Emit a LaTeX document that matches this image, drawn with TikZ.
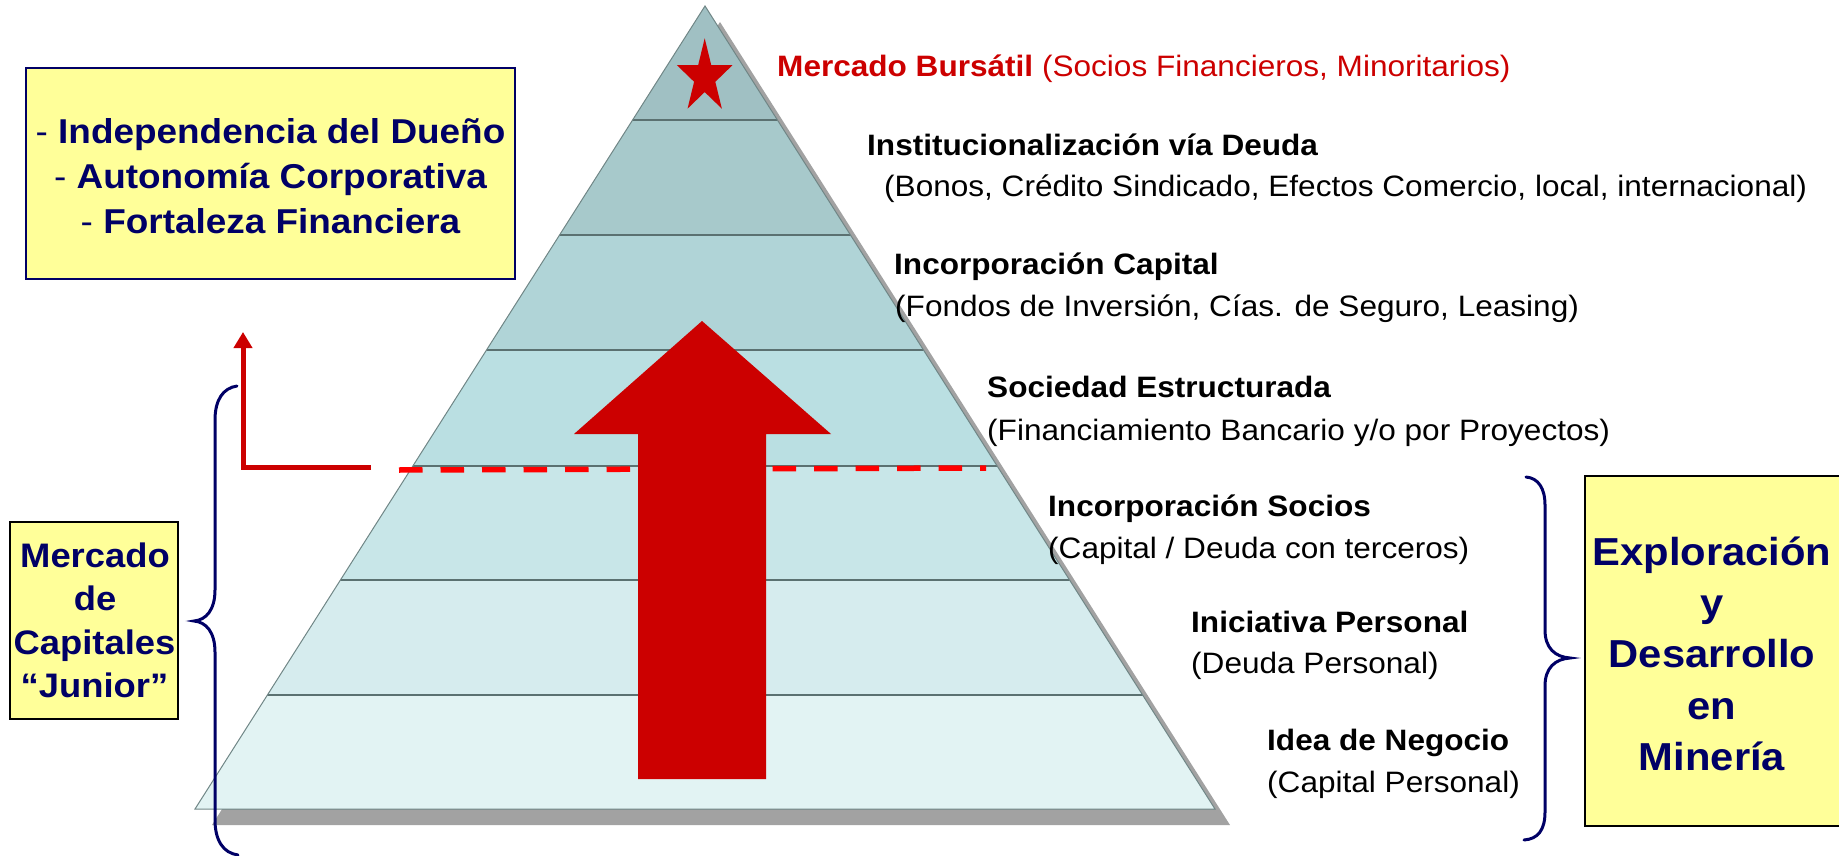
\documentclass[tikz,border=0pt]{standalone}
\usepackage{fontspec}
\setmainfont{Liberation Sans}[FakeStretch=1.07]
\usetikzlibrary{arrows.meta}
\definecolor{navy}{HTML}{000066}
\definecolor{darkred}{HTML}{CC0000}
\definecolor{brightred}{HTML}{FF0000}
\definecolor{boxyellow}{HTML}{FFFF99}
\definecolor{shadowgray}{HTML}{A2A2A2}
\definecolor{layA}{HTML}{A0C0C3}
\definecolor{layB}{HTML}{A7C9CB}
\definecolor{layC}{HTML}{B0D4D7}
\definecolor{layD}{HTML}{BADFE2}
\definecolor{layE}{HTML}{C8E6E8}
\definecolor{layF}{HTML}{D6ECEE}
\definecolor{layG}{HTML}{E2F3F3}
\definecolor{dividercol}{HTML}{5B7171}
\definecolor{edgegray}{HTML}{708686}
\newcommand\fsright{\fontsize{29.5pt}{35pt}\selectfont}
\newcommand\fsgoal{\fontsize{34.5pt}{45pt}\selectfont\bfseries}
\newcommand\fsjunior{\fontsize{34pt}{43.5pt}\selectfont\bfseries}
\newcommand\fsexpl{\fontsize{39pt}{51pt}\selectfont\bfseries}
\begin{document}
\begin{tikzpicture}[x=1pt,y=-1pt,
  rtext/.style={anchor=base west, inner sep=0pt, font=\fsright},
  rhead/.style={anchor=base west, inner sep=0pt, font=\fsright\bfseries},
  goaltext/.style={anchor=base, inner sep=0pt, text=navy, font=\fsgoal},
  juniortext/.style={anchor=base, inner sep=0pt, text=navy, font=\fsjunior},
  expltext/.style={anchor=base, inner sep=0pt, text=navy, font=\fsexpl},
  ybox/.style={rectangle, fill=boxyellow, inner sep=0pt, line width=2pt},
  dividerline/.style={draw=dividercol, line width=2.5pt},
  dashline/.style={draw=brightred, line width=5.5pt, dash pattern=on 23.5pt off 18pt},
  redarrow/.style={draw=darkred, line width=5pt, line join=miter, -{Triangle[width=18pt,length=16pt]}},
  bracestyle/.style={draw=navy, line width=3pt, line cap=round}
]
\useasboundingbox (0,0) rectangle (1839,856);
\clip (0,0) rectangle (1839,856);

% pyramid geometry
\coordinate (apex) at (705,6);
\coordinate (bl) at (195,809);
\coordinate (br) at (1215,809);
\coordinate (sapex) at (720,22);
\coordinate (sbl) at (212,825);
\coordinate (sbr) at (1230,825);

% shadow
\fill[shadowgray] (sapex) -- (sbl) -- (sbr) -- cycle;

% layers
\begin{scope}
  \clip (apex) -- (bl) -- (br) -- cycle;
  \fill[layA] (150,0) rectangle (1300,120);
  \fill[layB] (150,120) rectangle (1300,235);
  \fill[layC] (150,235) rectangle (1300,350);
  \fill[layD] (150,350) rectangle (1300,466);
  \fill[layE] (150,466) rectangle (1300,580);
  \fill[layF] (150,580) rectangle (1300,695);
  \fill[layG] (150,695) rectangle (1300,809);
  \foreach \yy in {120,235,350,466,580,695}
    \draw[dividerline] (150,\yy) -- (1300,\yy);
\end{scope}
\draw[edgegray, line width=1pt] (apex) -- (bl) -- (br) -- cycle;

% star
\begin{scope}[shift={(704.7,77.2)}, x=29.2pt, y=38.9pt]
  \fill[darkred] (90:1) -- (126:0.382) -- (162:1) -- (198:0.382) -- (234:1)
    -- (270:0.382) -- (306:1) -- (342:0.382) -- (18:1) -- (54:0.382) -- cycle;
\end{scope}

% dashed threshold line
\coordinate (dashL) at (399,470);
\coordinate (dashR) at (986,468);
\draw[dashline] (dashL) -- (dashR);

% big arrow
\fill[darkred] (702,321) -- (831,434) -- (766,434) -- (766,779) -- (638,779)
  -- (638,434) -- (574,434) -- cycle;

% L arrow
\coordinate (Lstart) at (371,467);
\coordinate (Lcorner) at (243,467);
\coordinate (Ltip) at (243,332);
\draw[redarrow] (Lstart) -- (Lcorner) -- (Ltip);

% left brace
\draw[bracestyle] (237,386) .. controls (223,388) and (215,400) .. (215,420)
  -- (215,590) .. controls (215,610) and (206,620) .. (194,621)
  .. controls (206,622) and (215,632) .. (215,652)
  -- (215,820) .. controls (215,840) and (223,853) .. (238,855);

% right brace
\draw[bracestyle] (1526,477) .. controls (1538,478) and (1545,488) .. (1545,505)
  -- (1545,630) .. controls (1545,648) and (1555,657) .. (1570,658)
  .. controls (1555,659) and (1545,668) .. (1545,686)
  -- (1545,812) .. controls (1545,830) and (1538,839) .. (1524,840);

% goals box
\node[ybox, draw=navy, minimum width=489pt, minimum height=211pt] (goals) at (270.5,173.5) {};
\node[goaltext] (g1) at (270.5,143) {\textmd{-} Independencia del Dueño};
\node[goaltext] (g2) at (270.5,188) {\textmd{-} Autonomía Corporativa};
\node[goaltext] (g3) at (270.5,233) {\textmd{-} Fortaleza Financiera};

% junior box
\node[ybox, draw=black, minimum width=168pt, minimum height=197pt] (junior) at (94,620.5) {};
\node[juniortext] (j1) at (95,567) {Mercado};
\node[juniortext] (j2) at (95,610) {de};
\node[juniortext] (j3) at (94.5,654) {Capitales};
\node[juniortext] (j4) at (94.5,697) {“Junior”};

% exploration box
\node[ybox, draw=black, minimum width=262pt, minimum height=350pt] (expl) at (1716,651) {};
\node[expltext] (e1) at (1712,565) {Exploración};
\node[expltext] (e2) at (1712,616) {y};
\node[expltext] (e3) at (1712,667) {Desarrollo};
\node[expltext] (e4) at (1712,719) {en};
\node[expltext] (e5) at (1712,770) {Minería};

% level labels
\node[rtext, text=darkred] (mb) at (777,77) {\textbf{Mercado Bursátil} (Socios Financieros, Minoritarios)};
\node[rhead] (l1a) at (867,155) {Institucionalización vía Deuda};
\node[rtext] (l1b) at (884,196.5) {(Bonos, Crédito Sindicado, Efectos Comercio, local, internacional)};
\node[rhead] (l2a) at (894,274) {Incorporación Capital};
\node[rtext] (l2b) at (895,316.5) {(Fondos de Inversión, Cías. de Seguro, Leasing)};
\node[rhead] (l3a) at (987,397) {Sociedad Estructurada};
\node[rtext] (l3b) at (987,440.5) {(Financiamiento Bancario y/o por Proyectos)};
\node[rhead] (l4a) at (1048,516) {Incorporación Socios};
\node[rtext] (l4b) at (1048,558.5) {(Capital / Deuda con terceros)};
\node[rhead] (l5a) at (1191,632) {Iniciativa Personal};
\node[rtext] (l5b) at (1191,673) {(Deuda Personal)};
\node[rhead] (l6a) at (1267,750) {Idea de Negocio};
\node[rtext] (l6b) at (1267,792.5) {(Capital Personal)};
\end{tikzpicture}
\end{document}
